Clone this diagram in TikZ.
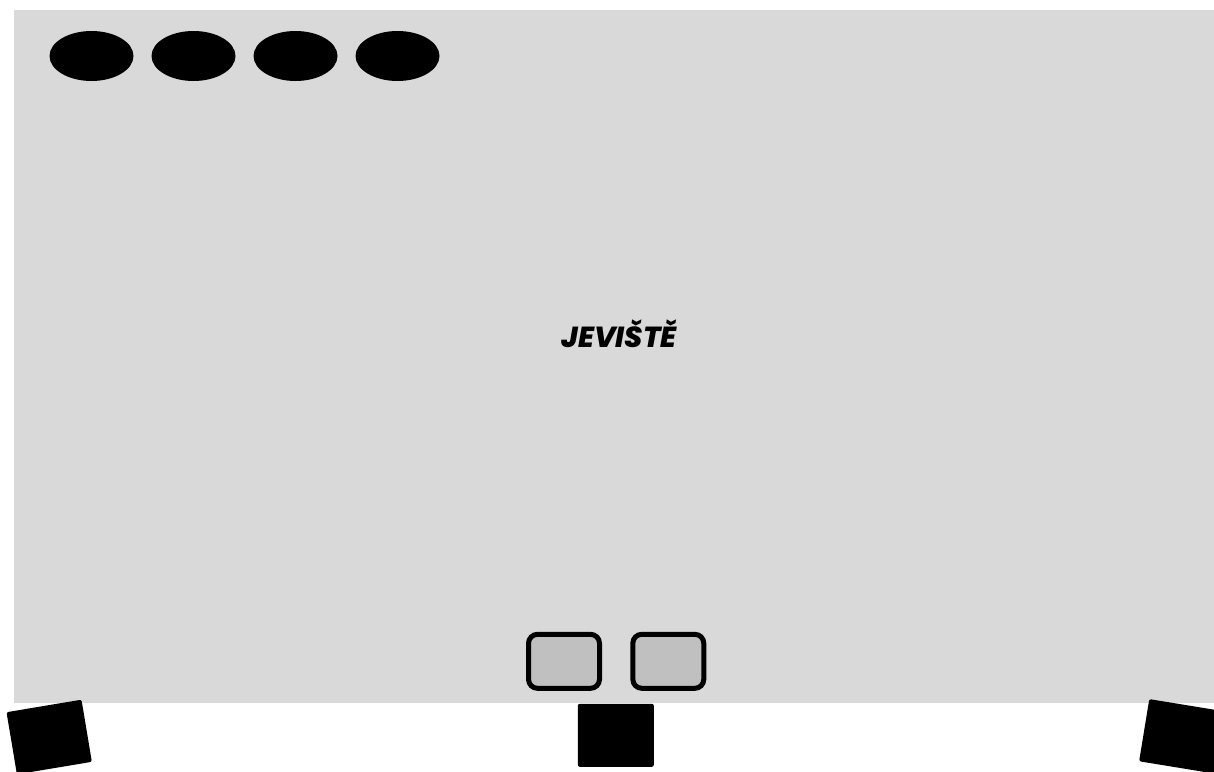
\documentclass[tikz,border=0pt]{standalone}
\usepackage{fontspec}
\setmainfont{Poppins}
\newfontfamily\stagefont{Poppins ExtraBold Italic}
\usetikzlibrary{shapes.geometric}
\definecolor{stagegray}{HTML}{D9D9D9}
\definecolor{boxgray}{HTML}{C0C0C0}

\begin{document}
\begin{tikzpicture}[x=1pt,y=-1pt,
    light/.style={ellipse,fill=black,inner sep=0pt,minimum width=84pt,minimum height=50pt},
    monitor/.style={draw,line width=5pt,fill=boxgray,rounded corners=9pt,inner sep=0pt,minimum width=71pt,minimum height=54pt},
    speaker/.style={fill=black,rounded corners=2pt,inner sep=0pt,minimum width=76pt,minimum height=63pt}]
        \useasboundingbox (0,0) rectangle (1214,771);
        \node[fill=stagegray,inner sep=0pt,minimum width=1200pt,minimum height=693pt] (stage) at (614,356.5) {};
        \node[anchor=base,inner sep=0pt,font=\stagefont\fontsize{29}{33}\selectfont] (title) at (619,347.5) {JEVIŠTĚ};
        \foreach \i/\x in {1/91.5,2/193.5,3/295.5,4/397.5}
            \node[light] (light\i) at (\x,56) {};
        \node[monitor] (monL) at (564,661.3) {};
        \node[monitor] (monR) at (668.3,661.3) {};
        \node[speaker,rotate=9.5] (spkL) at (49.2,737) {};
        \node[speaker] (spkC) at (615.8,735.3) {};
        \node[speaker,rotate=-9.3] (spkR) at (1181.7,736.3) {};
    \end{tikzpicture}
\end{document}
